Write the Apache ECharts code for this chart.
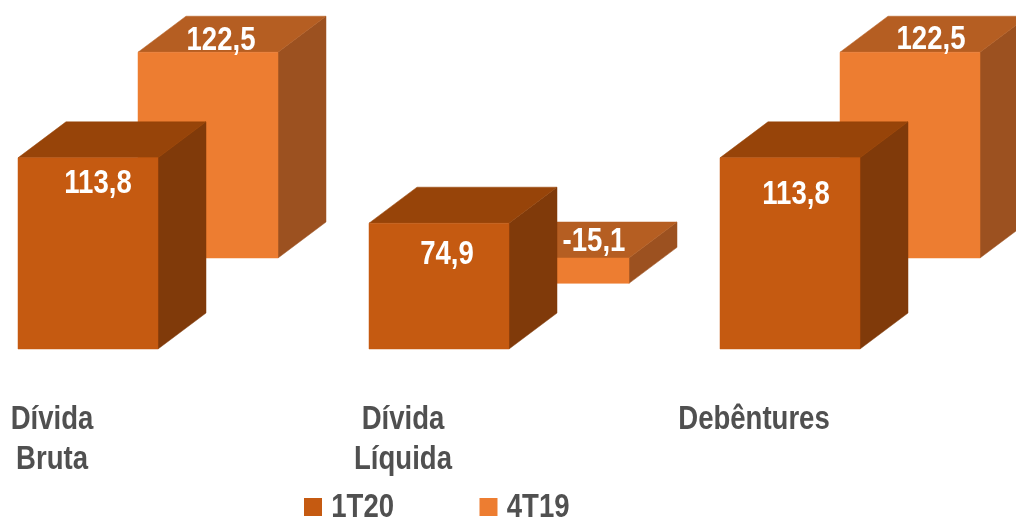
<!DOCTYPE html>
<html><head><meta charset="utf-8">
<style>html,body{margin:0;padding:0;background:#fff;overflow:hidden}#c{width:1016px;height:517px}</style>
<script src="https://cdn.jsdelivr.net/npm/echarts@6/dist/echarts.min.js"></script>
</head><body><div id="c"></div>
<script>
var categories = ['Dívida\nBruta', 'Dívida\nLíquida', 'Debêntures'];
var values1T20 = [113.8, 74.9, 113.8];
var values4T19 = [122.5, -15.1, 122.5];
var labels1T20 = ['113,8', '74,9', '113,8'];
var labels4T19 = ['122,5', '-15,1', '122,5'];

// Layout only (pixels)
var FONT = '"Liberation Sans",Arial,sans-serif';
var CONDENSE = 0.81;
var BAR_W = 140, DEPTH_X = 48, DEPTH_Y = 36;
var FRONT = {dx: -34, dy: 0, fill: '#c55a11', top: '#974409', side: '#803a0a',
  nudge: [[10, 26], [8, 31], [6, 37]]};
var BACK = {dx: 86, dy: -91, fill: '#ed7d31', top: '#b55e22', side: '#9c5120',
  nudge: [[-11, -12], [11, -16], [-3, -13]]};

function bar3d(cfg, labels) {
  return function (params, api) {
    var i = api.value(0), v = api.value(1);
    var p0 = api.coord([i, 0]), p1 = api.coord([i, v]);
    var x = p0[0] + cfg.dx, w = BAR_W;
    var a = p0[1] + cfg.dy, b = p1[1] + cfg.dy;
    var t = Math.min(a, b), bt = Math.max(a, b);
    var n = cfg.nudge[params.dataIndex];
    function poly(pts, c) {
      return {type: 'polygon', shape: {points: pts}, style: {fill: c, stroke: c, lineWidth: 0.5}};
    }
    return {type: 'group', children: [
      poly([[x + w, t], [x + w + DEPTH_X, t - DEPTH_Y], [x + w + DEPTH_X, bt - DEPTH_Y], [x + w, bt]], cfg.side),
      poly([[x, t], [x + DEPTH_X, t - DEPTH_Y], [x + w + DEPTH_X, t - DEPTH_Y], [x + w, t]], cfg.top),
      poly([[x, t], [x + w, t], [x + w, bt], [x, bt]], cfg.fill),
      {type: 'text', z2: 10, x: x + w / 2 + DEPTH_X / 2 * (cfg === BACK ? 1 : 0) + n[0], y: t + n[1],
        style: {text: labels[params.dataIndex], fill: '#fff', font: 'bold 34px ' + FONT,
          align: 'center', verticalAlign: 'middle'}}
    ]};
  };
}

var chart = echarts.init(document.getElementById('c'), null, {renderer: 'canvas'});
chart.setOption({
  animation: false,
  backgroundColor: '#fff',
  grid: {left: 52, width: 702, top: 13, height: 369.6, outerBoundsMode: 'none'},
  xAxis: {type: 'category', data: categories, boundaryGap: false,
    axisLine: {show: false}, axisTick: {show: false}, splitLine: {show: false},
    axisLabel: {interval: 0, margin: 17, color: '#505050', fontFamily: FONT, fontWeight: 'bold',
      fontSize: 34, lineHeight: 40}},
  yAxis: {type: 'value', min: -20, max: 200, show: false},
  legend: {left: 304, top: 490, padding: 0, itemWidth: 18, itemHeight: 18, itemGap: 71,
    icon: 'rect', data: ['1T20', '4T19'],
    textStyle: {color: '#505050', fontFamily: FONT, fontWeight: 'bold', fontSize: 34, padding: [0, 0, 0, 4]}},
  series: [
    {name: '4T19', type: 'custom', z: 2, clip: false, itemStyle: {color: BACK.fill},
      encode: {x: 0, y: 1}, renderItem: bar3d(BACK, labels4T19),
      data: values4T19.map(function (v, i) { return [i, v]; })},
    {name: '1T20', type: 'custom', z: 3, clip: false, itemStyle: {color: FRONT.fill},
      encode: {x: 0, y: 1}, renderItem: bar3d(FRONT, labels1T20),
      data: values1T20.map(function (v, i) { return [i, v]; })}
  ]
});
// No narrow face is installed: condense every text horizontally around its anchor.
chart.getZr().storage.traverse(function (el) {
  if (el.type === 'text') {
    el.scaleX = CONDENSE;
    if (el.style.x) { el.originX = el.style.x; el.x = (el.x || 0) + 1; el.y = (el.y || 0) + 1; }
    el.markRedraw();
  }
});
chart.getZr().refreshImmediately();
</script></body></html>
